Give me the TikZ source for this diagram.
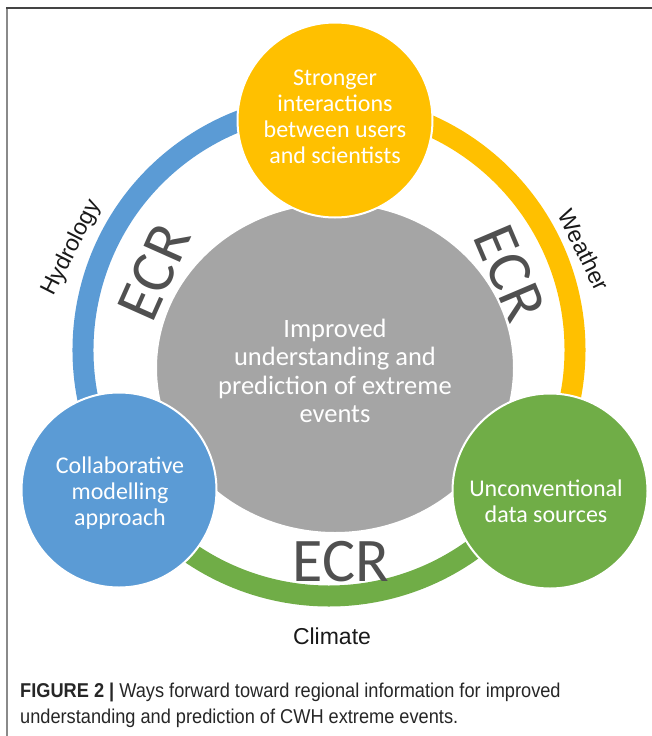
\documentclass[tikz,border=0pt]{standalone}
\usepackage{fontspec}
\usetikzlibrary{shapes.geometric}
\newfontfamily\carl{Carlito}
\newfontfamily\arialf{Liberation Sans}
\newfontfamily\capf[FakeStretch=0.91]{Liberation Sans}
\definecolor{cyellow}{HTML}{FFC000}
\definecolor{cblue}{HTML}{5B9BD5}
\definecolor{cgreen}{HTML}{70AD47}
\definecolor{cgray}{HTML}{A5A5A5}
\definecolor{ecrgray}{HTML}{505050}
\definecolor{frameA}{HTML}{444444}
\definecolor{frameB}{HTML}{8A8A8A}
\tikzset{
  theme/.style={fill=#1, draw=white, line width=2pt, circle, inner sep=0pt,
    minimum size=195pt},
  themetext/.style={align=center, text=white, inner sep=0pt,
    font=\carl\fontsize{24}{26}\selectfont},
  band/.style={draw=#1, line width=21pt},
  ecr/.style={text=ecrgray, inner sep=0pt, font=\carl\fontsize{62}{62}\selectfont},
  fieldlabel/.style={text=black!90, inner sep=0pt, font=\arialf\fontsize{23}{23}\selectfont},
  captxt/.style={anchor=base west, inner sep=0pt, text=black!85,
    font=\capf\fontsize{20}{20}\selectfont}
}
\begin{document}
\begin{tikzpicture}[x=1pt,y=-1pt]
\useasboundingbox (0,0) rectangle (652,736);
% frame lines
\draw[frameB, line width=2pt] (7,8) -- (7,736);
\draw[frameA, line width=2pt] (6,8) -- (652,8);

% ring segments around the centre
\coordinate (ring) at (329,350);
\draw[band=cblue]   ([shift={(146:246)}]ring) arc[start angle=146, end angle=272, radius=246];
\draw[band=cyellow] ([shift={(272:246)}]ring) arc[start angle=272, end angle=393, radius=246];
\draw[band=cgreen]  ([shift={(32:246)}]ring)  arc[start angle=32,  end angle=147, radius=246];

% central disc
\node[ellipse, fill=cgray, draw=white, line width=2pt, inner sep=0pt,
  minimum width=358pt, minimum height=330pt] (core) at (335,368) {};
\node[themetext, font=\carl\fontsize{26.5}{28.5}\selectfont] (coretext) at (335,371)
  {Improved\\understanding and\\prediction of extreme\\events};

% outer circles
\node[theme=cyellow] (users) at (335,120) {};
\node[theme=cblue]   (model) at (119,490) {};
\node[theme=cgreen]  (data)  at (550,491) {};
\node[themetext] (userstext) at (335,116.5) {Stronger\\interactions\\between users\\and scientists};
\node[themetext] (modeltext) at (120,493) {Collaborative\\modelling\\approach};
\node[themetext] (datatext)  at (546,501) {Unconventional\\data sources};

% ECR labels along the ring
\node[ecr, rotate=66]  (ecrL) at (154,272) {ECR};
\node[ecr, rotate=-67] (ecrR) at (510,273) {ECR};
\node[ecr]             (ecrB) at (341,562) {ECR};

% field labels outside the ring
\node[fieldlabel, rotate=63]  (hyd) at (72,248)  {Hydrology};
\node[fieldlabel, rotate=-64] (wea) at (584,250) {Weather};
\node[fieldlabel]             (cli) at (332,636) {Climate};

% caption
\node[captxt] (cap1) at (20,697) {{\bfseries FIGURE 2 |} Ways forward toward regional information for improved};
\node[captxt] (cap2) at (20,723) {understanding and prediction of CWH extreme events.};
\end{tikzpicture}
\end{document}
